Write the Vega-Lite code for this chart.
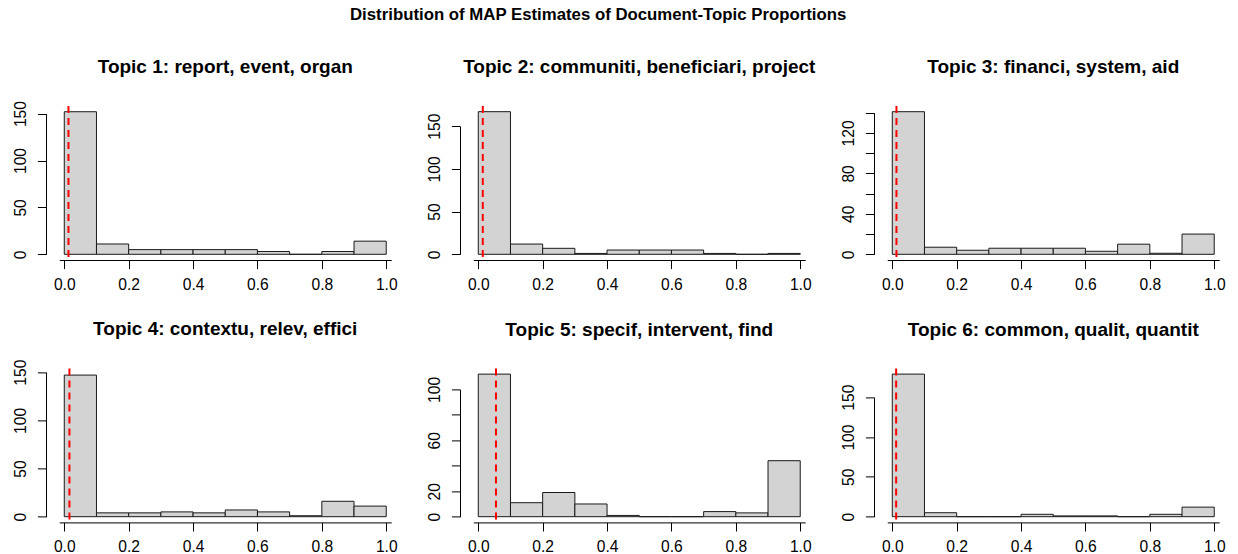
{
  "$schema": "https://vega.github.io/schema/vega-lite/v6.json",
  "padding": {"left": 13, "top": 7, "right": 5, "bottom": 5},
  "background": "white",
  "title": {"text": "Distribution of MAP Estimates of Document-Topic Proportions", "fontSize": 16.8, "font": "Liberation Sans", "fontWeight": "bold", "color": "black", "anchor": "middle", "frame": "bounds", "baseline": "alphabetic", "offset": 20.8, "dx": -25},
  "datasets": {
    "bins": [
      {"topic": 1, "start": 0.0, "end": 0.1, "count": 152}, {"topic": 1, "start": 0.1, "end": 0.2, "count": 11}, {"topic": 1, "start": 0.2, "end": 0.3, "count": 5}, {"topic": 1, "start": 0.3, "end": 0.4, "count": 5}, {"topic": 1, "start": 0.4, "end": 0.5, "count": 5}, {"topic": 1, "start": 0.5, "end": 0.6, "count": 5}, {"topic": 1, "start": 0.6, "end": 0.7, "count": 3}, {"topic": 1, "start": 0.7, "end": 0.8, "count": 0}, {"topic": 1, "start": 0.8, "end": 0.9, "count": 3}, {"topic": 1, "start": 0.9, "end": 1.0, "count": 14},
      {"topic": 2, "start": 0.0, "end": 0.1, "count": 167}, {"topic": 2, "start": 0.1, "end": 0.2, "count": 12}, {"topic": 2, "start": 0.2, "end": 0.3, "count": 7}, {"topic": 2, "start": 0.3, "end": 0.4, "count": 1}, {"topic": 2, "start": 0.4, "end": 0.5, "count": 5}, {"topic": 2, "start": 0.5, "end": 0.6, "count": 5}, {"topic": 2, "start": 0.6, "end": 0.7, "count": 5}, {"topic": 2, "start": 0.7, "end": 0.8, "count": 1}, {"topic": 2, "start": 0.8, "end": 0.9, "count": 0}, {"topic": 2, "start": 0.9, "end": 1.0, "count": 1},
      {"topic": 3, "start": 0.0, "end": 0.1, "count": 141}, {"topic": 3, "start": 0.1, "end": 0.2, "count": 7}, {"topic": 3, "start": 0.2, "end": 0.3, "count": 4}, {"topic": 3, "start": 0.3, "end": 0.4, "count": 6}, {"topic": 3, "start": 0.4, "end": 0.5, "count": 6}, {"topic": 3, "start": 0.5, "end": 0.6, "count": 6}, {"topic": 3, "start": 0.6, "end": 0.7, "count": 3}, {"topic": 3, "start": 0.7, "end": 0.8, "count": 10}, {"topic": 3, "start": 0.8, "end": 0.9, "count": 1}, {"topic": 3, "start": 0.9, "end": 1.0, "count": 20},
      {"topic": 4, "start": 0.0, "end": 0.1, "count": 147}, {"topic": 4, "start": 0.1, "end": 0.2, "count": 4}, {"topic": 4, "start": 0.2, "end": 0.3, "count": 4}, {"topic": 4, "start": 0.3, "end": 0.4, "count": 5}, {"topic": 4, "start": 0.4, "end": 0.5, "count": 4}, {"topic": 4, "start": 0.5, "end": 0.6, "count": 7}, {"topic": 4, "start": 0.6, "end": 0.7, "count": 5}, {"topic": 4, "start": 0.7, "end": 0.8, "count": 1}, {"topic": 4, "start": 0.8, "end": 0.9, "count": 16}, {"topic": 4, "start": 0.9, "end": 1.0, "count": 11},
      {"topic": 5, "start": 0.0, "end": 0.1, "count": 112}, {"topic": 5, "start": 0.1, "end": 0.2, "count": 11}, {"topic": 5, "start": 0.2, "end": 0.3, "count": 19}, {"topic": 5, "start": 0.3, "end": 0.4, "count": 10}, {"topic": 5, "start": 0.4, "end": 0.5, "count": 1}, {"topic": 5, "start": 0.5, "end": 0.6, "count": 0}, {"topic": 5, "start": 0.6, "end": 0.7, "count": 0}, {"topic": 5, "start": 0.7, "end": 0.8, "count": 4}, {"topic": 5, "start": 0.8, "end": 0.9, "count": 3}, {"topic": 5, "start": 0.9, "end": 1.0, "count": 44},
      {"topic": 6, "start": 0.0, "end": 0.1, "count": 179}, {"topic": 6, "start": 0.1, "end": 0.2, "count": 5}, {"topic": 6, "start": 0.2, "end": 0.3, "count": 0}, {"topic": 6, "start": 0.3, "end": 0.4, "count": 0}, {"topic": 6, "start": 0.4, "end": 0.5, "count": 3}, {"topic": 6, "start": 0.5, "end": 0.6, "count": 1}, {"topic": 6, "start": 0.6, "end": 0.7, "count": 1}, {"topic": 6, "start": 0.7, "end": 0.8, "count": 0}, {"topic": 6, "start": 0.8, "end": 0.9, "count": 3}, {"topic": 6, "start": 0.9, "end": 1.0, "count": 12}
    ],
    "lines": [
      {"topic": 1, "v": 0.013}, {"topic": 2, "v": 0.014}, {"topic": 3, "v": 0.013},
      {"topic": 4, "v": 0.016}, {"topic": 5, "v": 0.055}, {"topic": 6, "v": 0.012}
    ]
  },
  "columns": 3,
  "bounds": "flush",
  "spacing": {"row": 108.4, "column": 55.0},
  "concat": [
    {
      "width": 358.5, "height": 154,
      "title": {"text": "Topic 1: report, event, organ", "offset": 23.7},
      "layer": [
        {"data": {"name": "bins"}, "transform": [{"filter": "datum.topic == 1"}],
         "mark": {"type": "bar", "orient": "vertical", "fill": "#d3d3d3", "stroke": "#1a1a1a", "strokeWidth": 1},
         "encoding": {
           "x": {"field": "start", "type": "quantitative", "scale": {"domain": [0, 1], "range": [13.28, 345.22], "nice": false}, "axis": {"values": [0, 0.2, 0.4, 0.6, 0.8, 1], "format": ".1f"}},
           "x2": {"field": "end"},
           "y": {"field": "count", "type": "quantitative", "scale": {"domain": [0, 150], "range": [148.3, 7.6], "nice": false}, "axis": {"values": [0, 50, 100, 150]}},
           "y2": {"datum": 0}
         }},
        {"data": {"name": "lines"}, "transform": [{"filter": "datum.topic == 1"}],
         "mark": {"type": "rule", "color": "#ff0000", "strokeDash": [7, 5], "strokeWidth": 2},
         "encoding": {"x": {"field": "v", "type": "quantitative"}}}
      ]
    },
    {
      "width": 358.5, "height": 154,
      "title": {"text": "Topic 2: communiti, beneficiari, project", "offset": 27.7},
      "layer": [
        {"data": {"name": "bins"}, "transform": [{"filter": "datum.topic == 2"}],
         "mark": {"type": "bar", "orient": "vertical", "fill": "#d3d3d3", "stroke": "#1a1a1a", "strokeWidth": 1},
         "encoding": {
           "x": {"field": "start", "type": "quantitative", "scale": {"domain": [0, 1], "range": [13.28, 345.22], "nice": false}, "axis": {"values": [0, 0.2, 0.4, 0.6, 0.8, 1], "format": ".1f"}},
           "x2": {"field": "end"},
           "y": {"field": "count", "type": "quantitative", "scale": {"domain": [0, 150], "range": [148.3, 20.2], "nice": false}, "axis": {"values": [0, 50, 100, 150]}},
           "y2": {"datum": 0}
         }},
        {"data": {"name": "lines"}, "transform": [{"filter": "datum.topic == 2"}],
         "mark": {"type": "rule", "color": "#ff0000", "strokeDash": [7, 5], "strokeWidth": 2},
         "encoding": {"x": {"field": "v", "type": "quantitative"}}}
      ]
    },
    {
      "width": 358.5, "height": 154,
      "title": {"text": "Topic 3: financi, system, aid", "offset": 27.7},
      "layer": [
        {"data": {"name": "bins"}, "transform": [{"filter": "datum.topic == 3"}],
         "mark": {"type": "bar", "orient": "vertical", "fill": "#d3d3d3", "stroke": "#1a1a1a", "strokeWidth": 1},
         "encoding": {
           "x": {"field": "start", "type": "quantitative", "scale": {"domain": [0, 1], "range": [13.28, 345.22], "nice": false}, "axis": {"values": [0, 0.2, 0.4, 0.6, 0.8, 1], "format": ".1f"}},
           "x2": {"field": "end"},
           "y": {"field": "count", "type": "quantitative", "scale": {"domain": [0, 140], "range": [148.3, 6.7], "nice": false}, "axis": {"values": [0, 20, 40, 60, 80, 100, 120, 140], "labelExpr": "datum.value % 40 == 0 ? datum.label : ''"}},
           "y2": {"datum": 0}
         }},
        {"data": {"name": "lines"}, "transform": [{"filter": "datum.topic == 3"}],
         "mark": {"type": "rule", "color": "#ff0000", "strokeDash": [7, 5], "strokeWidth": 2},
         "encoding": {"x": {"field": "v", "type": "quantitative"}}}
      ]
    },
    {
      "width": 358.5, "height": 154,
      "title": {"text": "Topic 4: contextu, relev, effici", "offset": 19.7},
      "layer": [
        {"data": {"name": "bins"}, "transform": [{"filter": "datum.topic == 4"}],
         "mark": {"type": "bar", "orient": "vertical", "fill": "#d3d3d3", "stroke": "#1a1a1a", "strokeWidth": 1},
         "encoding": {
           "x": {"field": "start", "type": "quantitative", "scale": {"domain": [0, 1], "range": [13.28, 345.22], "nice": false}, "axis": {"values": [0, 0.2, 0.4, 0.6, 0.8, 1], "format": ".1f"}},
           "x2": {"field": "end"},
           "y": {"field": "count", "type": "quantitative", "scale": {"domain": [0, 150], "range": [148.3, 3.8], "nice": false}, "axis": {"values": [0, 50, 100, 150]}},
           "y2": {"datum": 0}
         }},
        {"data": {"name": "lines"}, "transform": [{"filter": "datum.topic == 4"}],
         "mark": {"type": "rule", "color": "#ff0000", "strokeDash": [7, 5], "strokeWidth": 2},
         "encoding": {"x": {"field": "v", "type": "quantitative"}}}
      ]
    },
    {
      "width": 358.5, "height": 154,
      "title": {"text": "Topic 5: specif, intervent, find", "offset": 27.7},
      "layer": [
        {"data": {"name": "bins"}, "transform": [{"filter": "datum.topic == 5"}],
         "mark": {"type": "bar", "orient": "vertical", "fill": "#d3d3d3", "stroke": "#1a1a1a", "strokeWidth": 1},
         "encoding": {
           "x": {"field": "start", "type": "quantitative", "scale": {"domain": [0, 1], "range": [13.28, 345.22], "nice": false}, "axis": {"values": [0, 0.2, 0.4, 0.6, 0.8, 1], "format": ".1f"}},
           "x2": {"field": "end"},
           "y": {"field": "count", "type": "quantitative", "scale": {"domain": [0, 100], "range": [148.3, 21.0], "nice": false}, "axis": {"values": [0, 20, 40, 60, 80, 100], "labelExpr": "indexof([0, 20, 60, 100], datum.value) >= 0 ? datum.label : ''"}},
           "y2": {"datum": 0}
         }},
        {"data": {"name": "lines"}, "transform": [{"filter": "datum.topic == 5"}],
         "mark": {"type": "rule", "color": "#ff0000", "strokeDash": [7, 5], "strokeWidth": 2},
         "encoding": {"x": {"field": "v", "type": "quantitative"}}}
      ]
    },
    {
      "width": 358.5, "height": 154,
      "title": {"text": "Topic 6: common, qualit, quantit", "offset": 27.7},
      "layer": [
        {"data": {"name": "bins"}, "transform": [{"filter": "datum.topic == 6"}],
         "mark": {"type": "bar", "orient": "vertical", "fill": "#d3d3d3", "stroke": "#1a1a1a", "strokeWidth": 1},
         "encoding": {
           "x": {"field": "start", "type": "quantitative", "scale": {"domain": [0, 1], "range": [13.28, 345.22], "nice": false}, "axis": {"values": [0, 0.2, 0.4, 0.6, 0.8, 1], "format": ".1f"}},
           "x2": {"field": "end"},
           "y": {"field": "count", "type": "quantitative", "scale": {"domain": [0, 150], "range": [148.3, 28.8], "nice": false}, "axis": {"values": [0, 50, 100, 150]}},
           "y2": {"datum": 0}
         }},
        {"data": {"name": "lines"}, "transform": [{"filter": "datum.topic == 6"}],
         "mark": {"type": "rule", "color": "#ff0000", "strokeDash": [7, 5], "strokeWidth": 2},
         "encoding": {"x": {"field": "v", "type": "quantitative"}}}
      ]
    }
  ],
  "config": {
    "view": {"stroke": null},
    "font": "Liberation Sans",
    "title": {"font": "Liberation Sans", "fontSize": 19, "fontWeight": "bold", "color": "black", "anchor": "middle", "frame": "group", "baseline": "alphabetic"},
    "axis": {"grid": false, "title": null, "domainColor": "black", "domainWidth": 1, "tickColor": "black", "tickWidth": 1, "tickSize": 8.6, "labelColor": "black", "labelFont": "Liberation Sans", "labelFontSize": 15.6, "labelOverlap": false, "labelFlush": false, "labelBound": false},
    "axisX": {"labelBaseline": "middle", "labelPadding": 15.7, "labelAngle": 0},
    "axisY": {"labelAngle": -90, "labelAlign": "center", "labelBaseline": "middle", "labelPadding": 16.6}
  }
}
